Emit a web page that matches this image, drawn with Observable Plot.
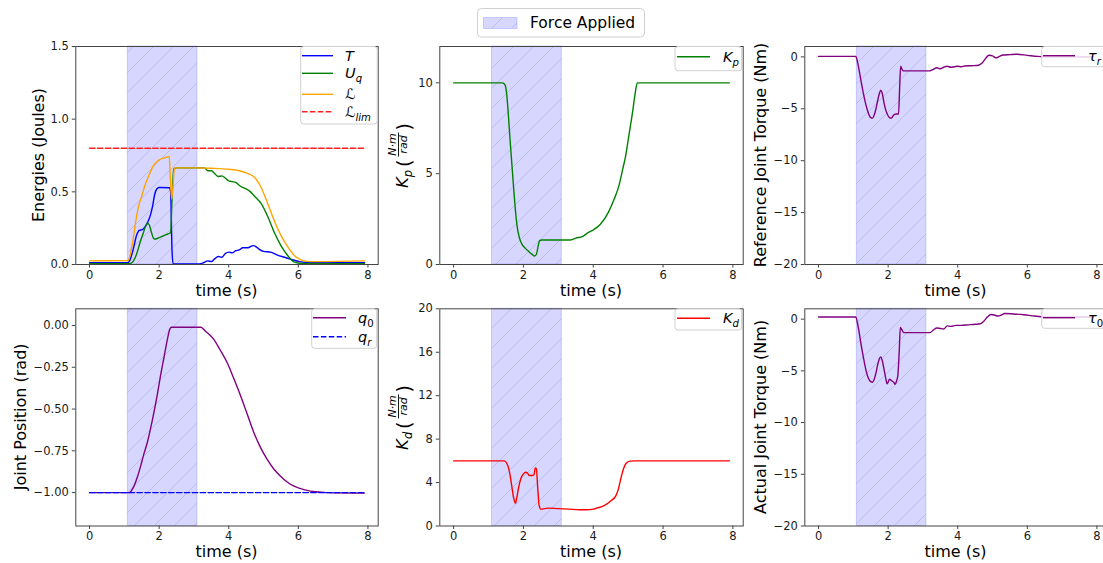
<!DOCTYPE html>
<html><head><meta charset="utf-8">
<script src="https://cdn.jsdelivr.net/npm/d3@7"></script>
<script src="https://cdn.jsdelivr.net/npm/@observablehq/plot@0.6"></script>
<style>
html,body{margin:0;padding:0;background:#fff;overflow:hidden;}
#fig{position:relative;width:1103px;height:563px;overflow:hidden;background:#fff;font-family:"DejaVu Sans",sans-serif;}
#fig > svg{position:absolute;left:0;top:0;}
</style></head><body>
<div id="fig">
<svg width="0" height="0" style="position:absolute;left:0;top:0"><defs>
<pattern id="hatch" patternUnits="userSpaceOnUse" width="20" height="20">
<rect width="20" height="20" fill="#d6d6ff"></rect>
<path d="M-2,2 L2,-2 M0,20 L20,0 M18,22 L22,18" stroke="#bcbcf3" stroke-width="1"></path>
</pattern>
</defs></svg>
</div>
<script>
// ---------------- data ----------------
const forceStart = 1.1, forceEnd = 3.1;
const xTicks = [0, 2, 4, 6, 8];

// Energies
const tT = [0,1.1,1.16,1.25,1.35,1.43,1.52,1.6,1.67,1.75,1.81,1.87,1.93,2.0,2.3,2.33,2.37,2.4,3.1,3.25,3.4,3.5,3.6,3.7,3.8,3.9,4.0,4.1,4.2,4.3,4.4,4.55,4.7,4.8,4.9,5.0,5.2,5.4,5.6,5.8,6.0,6.2,7.9];
const vT = [0.012,0.012,0.03,0.1,0.2,0.235,0.24,0.26,0.29,0.34,0.40,0.48,0.52,0.53,0.528,0.5,0.1,0.005,0.003,0.01,0.025,0.02,0.04,0.055,0.05,0.075,0.085,0.08,0.095,0.10,0.115,0.115,0.13,0.12,0.10,0.09,0.085,0.065,0.05,0.035,0.022,0.015,0.012];
const tU = [0,1.15,1.25,1.35,1.45,1.55,1.62,1.67,1.72,1.78,1.84,1.9,2.0,2.1,2.2,2.3,2.33,2.37,2.42,2.5,3.3,3.4,3.5,3.6,3.7,3.8,3.9,4.0,4.1,4.2,4.3,4.4,4.5,4.6,4.74,4.93,5.12,5.31,5.5,5.7,5.89,6.1,6.3,7.9];
const vU = [0.005,0.006,0.02,0.07,0.15,0.22,0.27,0.285,0.27,0.22,0.18,0.175,0.185,0.195,0.205,0.215,0.22,0.45,0.66,0.665,0.665,0.645,0.645,0.625,0.605,0.61,0.595,0.575,0.57,0.565,0.545,0.53,0.52,0.505,0.47,0.42,0.33,0.22,0.13,0.06,0.016,0.007,0.006,0.006];
const tL = [0,1.1,1.16,1.25,1.33,1.42,1.5,1.6,1.7,1.8,1.9,2.0,2.1,2.2,2.29,2.32,2.36,2.4,2.44,3.0,3.5,4.0,4.3,4.5,4.74,4.93,5.12,5.31,5.5,5.7,5.89,6.08,6.3,6.6,7.9];
const vL = [0.025,0.027,0.06,0.17,0.30,0.41,0.47,0.55,0.61,0.665,0.70,0.72,0.73,0.737,0.743,0.6,0.45,0.55,0.665,0.665,0.662,0.655,0.645,0.63,0.60,0.53,0.42,0.30,0.2,0.12,0.06,0.032,0.02,0.02,0.025];
const tLim = [0, 7.9];
const vLim = [0.8, 0.8];
const energyTicks = [0, 0.5, 1.0, 1.5];

// Kp
const tKp = [0,1.4,1.47,1.52,1.57,1.62,1.67,1.72,1.77,1.82,1.88,1.95,2.05,2.15,2.25,2.32,2.37,2.42,2.46,2.52,3.35,3.5,3.7,3.85,4.0,4.2,4.44,4.6,4.73,4.85,4.92,5.02,5.12,5.2,5.26,7.9];
const vKp = [10,10,9.9,9.4,8.2,6.8,5.5,4.2,3.0,2.1,1.5,1.15,0.9,0.72,0.56,0.47,0.55,1.0,1.3,1.35,1.35,1.45,1.55,1.75,1.9,2.2,2.9,3.6,4.3,5.3,5.9,7.1,8.3,9.4,10,10];
const kpTicks = [0, 5, 10];

// Reference torque
const tTr = [0,1.07,1.12,1.22,1.3,1.36,1.43,1.5,1.55,1.6,1.65,1.7,1.75,1.79,1.83,1.88,1.93,1.98,2.04,2.09,2.14,2.18,2.24,2.3,2.33,2.36,2.4,2.45,3.2,3.3,3.4,3.5,3.6,3.7,3.8,3.9,4.0,4.1,4.2,4.4,4.6,4.7,4.8,4.9,5.0,5.1,5.2,5.3,5.5,5.7,6.0,6.3,6.6,7.9];
const vTr = [0.05,0.05,-0.5,-2.3,-3.7,-4.6,-5.4,-5.85,-5.9,-5.6,-5.0,-4.2,-3.5,-3.2,-3.5,-4.4,-5.1,-5.55,-5.85,-5.9,-5.7,-5.55,-5.5,-5.5,-3.0,-0.9,-1.2,-1.35,-1.35,-1.2,-1.05,-1.15,-1.0,-0.9,-1.0,-0.95,-0.9,-0.95,-0.88,-0.85,-0.8,-0.6,-0.15,0.15,0.1,-0.1,0.05,0.18,0.22,0.25,0.15,0.05,0.0,0.0];
const torqueTicks = [0, -5, -10, -15, -20];

// Joint position
const tQ0 = [0,1.15,1.2,1.28,1.37,1.47,1.56,1.66,1.75,1.85,1.95,2.04,2.14,2.24,2.3,2.35,3.2,3.33,3.45,3.57,3.75,3.95,4.15,4.34,4.53,4.72,4.9,5.1,5.3,5.48,5.67,5.86,6.05,6.25,6.5,6.82,7.9];
const vQ0 = [-1.0,-1.0,-0.99,-0.96,-0.91,-0.84,-0.77,-0.70,-0.62,-0.52,-0.41,-0.30,-0.19,-0.08,-0.025,-0.01,-0.01,-0.034,-0.055,-0.083,-0.145,-0.22,-0.32,-0.42,-0.53,-0.64,-0.725,-0.80,-0.86,-0.90,-0.935,-0.96,-0.975,-0.987,-0.995,-1.0,-1.003];
const tQr = [0, 7.9];
const vQr = [-1.0, -1.0];
const posTicks = [0, -0.25, -0.5, -0.75, -1.0];

// Kd
const tKd = [0,1.45,1.52,1.6,1.66,1.72,1.77,1.81,1.86,1.93,2.0,2.07,2.12,2.17,2.25,2.3,2.34,2.37,2.41,2.45,2.5,2.7,3.0,3.3,3.6,3.8,4.0,4.1,4.3,4.5,4.65,4.72,4.8,4.87,4.95,5.05,5.2,7.9];
const vKd = [6,6,5.8,5.0,3.8,2.6,2.1,2.6,3.5,4.4,4.8,4.95,4.85,4.65,4.65,4.7,5.35,5.3,3.5,1.9,1.55,1.65,1.6,1.55,1.5,1.5,1.55,1.65,1.85,2.3,2.8,3.4,4.5,5.3,5.8,5.97,6,6];
const kdTicks = [0, 4, 8, 12, 16, 20];

// Actual torque
const tT0 = [0,1.07,1.12,1.22,1.3,1.36,1.43,1.5,1.55,1.6,1.65,1.7,1.75,1.79,1.83,1.88,1.93,1.97,2.0,2.04,2.08,2.12,2.16,2.2,2.24,2.28,2.32,2.35,2.39,2.45,3.2,3.3,3.4,3.5,3.6,3.7,3.8,3.95,4.1,4.3,4.5,4.65,4.75,4.85,4.95,5.05,5.15,5.25,5.35,5.6,5.9,6.2,6.5,7.9];
const vT0 = [0.2,0.2,-0.4,-2.4,-3.9,-4.9,-5.7,-6.05,-6.1,-5.8,-5.2,-4.4,-3.8,-3.65,-4.0,-4.8,-5.7,-6.25,-6.1,-5.8,-5.9,-6.0,-6.1,-6.3,-6.0,-5.4,-3.0,-0.8,-1.0,-1.3,-1.3,-1.05,-0.85,-0.9,-0.95,-0.65,-0.7,-0.6,-0.6,-0.55,-0.5,-0.45,-0.2,0.2,0.45,0.4,0.3,0.4,0.55,0.5,0.42,0.3,0.22,0.2];

// ---------------- drawing ----------------
const fig = document.getElementById("fig");
const W = 1120, H = 563;
const xDomain = [-0.395, 8.295];
const series = (t, v) => t.map((x, i) => ({t: x, v: v[i]}));

function panel(frame, yDomain, yTicks, yFormat, lines) {
  const svg = Plot.plot({
    width: W, height: H,
    marginLeft: frame.left, marginRight: W - frame.right,
    marginTop: frame.top, marginBottom: H - frame.bottom,
    style: {background: "transparent", fontFamily: "DejaVu Sans", fontSize: "11.5px", color: "#1a1a1a", overflow: "visible", maxWidth: "none"},
    x: {domain: xDomain},
    y: {domain: yDomain},
    marks: [
      Plot.rect([{x1: forceStart, x2: forceEnd}], {x1: "x1", x2: "x2", fill: "url(#hatch)", stroke: "rgba(90,90,255,0.25)", strokeWidth: 1}),
      ...lines.map(l => Plot.line(series(l.t, l.v), {x: "t", y: "v", stroke: l.color, strokeWidth: 1.4, strokeDasharray: l.dash, curve: "monotone-x"})),
      Plot.frame({stroke: "#444"}),
      Plot.axisX({ticks: xTicks, tickSize: 3.5, tickPadding: 2.5, label: null, tickFormat: d3.format("d"), stroke: "#444"}),
      Plot.axisY({ticks: yTicks, tickSize: 3.5, tickPadding: 3.5, label: null, tickFormat: yFormat, stroke: "#444"})
    ]
  });
  fig.appendChild(svg);
}

const F = {
  p1: {left: 75.3, right: 377.7, top: 46, bottom: 264},
  p2: {left: 439.3, right: 742.7, top: 46, bottom: 264},
  p3: {left: 804.3, right: 1106.7, top: 46, bottom: 264},
  p4: {left: 75.3, right: 377.7, top: 308.3, bottom: 525.5},
  p5: {left: 439.3, right: 742.7, top: 308.3, bottom: 525.5},
  p6: {left: 804.3, right: 1106.7, top: 308.3, bottom: 525.5}
};

panel(F.p1, [0, 1.5], energyTicks, d3.format(".1f"), [
  {t: tT, v: vT, color: "#0000ff"},
  {t: tU, v: vU, color: "#008000"},
  {t: tL, v: vL, color: "#ffa500"},
  {t: tLim, v: vLim, color: "#ff2020", dash: "5.5,2.4"}
]);
panel(F.p2, [0, 12], kpTicks, d3.format("d"), [{t: tKp, v: vKp, color: "#008000"}]);
panel(F.p3, [-20, 1], torqueTicks, d3.format("d"), [{t: tTr, v: vTr, color: "#800080"}]);
panel(F.p4, [-1.2, 0.1], posTicks, d3.format(".2f"), [
  {t: tQ0, v: vQ0, color: "#800080"},
  {t: tQr, v: vQr, color: "#0000ff", dash: "5.5,2.4"}
]);
panel(F.p5, [0, 20], kdTicks, d3.format("d"), [{t: tKd, v: vKd, color: "#ff0000"}]);
panel(F.p6, [-20, 1], torqueTicks, d3.format("d"), [{t: tT0, v: vT0, color: "#800080"}]);

// ---------------- overlay: labels and legends ----------------
const ov = d3.select(fig).append("svg").attr("width", W).attr("height", H)
  .style("font-family", "DejaVu Sans").style("pointer-events", "none");

const LBL = 16;
function xLabel(cx, f) {
  ov.append("text").attr("x", cx).attr("y", f.bottom + 26).attr("dy", "0.35em")
    .attr("text-anchor", "middle").attr("font-size", LBL).attr("fill", "#000").text("time (s)");
}
xLabel(226.5, F.p1); xLabel(591, F.p2); xLabel(955.5, F.p3);
xLabel(226.5, F.p4); xLabel(591, F.p5); xLabel(955.5, F.p6);

function yLabel(cx, cy, text) {
  ov.append("text").attr("transform", `translate(${cx},${cy}) rotate(-90)`).attr("dy", "0.35em")
    .attr("text-anchor", "middle").attr("font-size", LBL).attr("fill", "#000").text(text);
}
yLabel(38.3, 155, "Energies (Joules)");
yLabel(760.5, 155, "Reference Joint Torque (Nm)");
yLabel(20.7, 416.9, "Joint Position (rad)");
yLabel(760.7, 416.9, "Actual Joint Torque (Nm)");

function gainLabel(bx, cy, sub) {
  const g = ov.append("g").attr("transform", `translate(${bx},${cy}) rotate(-90)`).attr("fill", "#000");
  const t = g.append("text").attr("x", -33).attr("y", 0).attr("font-size", 16.5);
  t.append("tspan").attr("font-style", "italic").text("K");
  t.append("tspan").attr("font-style", "italic").attr("font-size", 11.5).attr("dy", 3.5).text(sub);
  g.append("text").attr("x", -12).attr("y", 2.5).attr("font-size", 19).text("(");
  g.append("text").attr("x", 10.5).attr("y", -12.5).attr("font-size", 11).attr("font-style", "italic").attr("text-anchor", "middle").text("N·m");
  g.append("line").attr("x1", -1.5).attr("x2", 22.5).attr("y1", -9.5).attr("y2", -9.5).attr("stroke", "#000").attr("stroke-width", 0.9);
  g.append("text").attr("x", 10.5).attr("y", -1).attr("font-size", 11).attr("font-style", "italic").attr("text-anchor", "middle").text("rad");
  g.append("text").attr("x", 24.5).attr("y", 2.5).attr("font-size", 19).text(")");
}
gainLabel(408, 155, "p");
gainLabel(408, 416.9, "d");

const LEG = 14.5;
function mathText(x, y, parts) {
  const t = ov.append("text").attr("x", x).attr("y", y).attr("font-size", LEG).attr("fill", "#000");
  let inSub = false;
  parts.forEach(p => {
    const ts = t.append("tspan").text(p.t).attr("font-style", p.it ? "italic" : "normal");
    if (p.sub) { ts.attr("font-size", LEG * 0.7); if (!inSub) { ts.attr("dy", 4); inSub = true; } }
    else if (inSub) { ts.attr("dy", -4); inSub = false; }
  });
}
function legend(box, x1, x2, tx, entries) {
  ov.append("rect").attr("x", box[0]).attr("y", box[1]).attr("width", box[2]).attr("height", box[3])
    .attr("rx", 3).attr("fill", "#fff").attr("fill-opacity", 0.8).attr("stroke", "#d0d0d0");
  entries.forEach(e => {
    ov.append("line").attr("x1", x1).attr("x2", x2).attr("y1", e.y).attr("y2", e.y)
      .attr("stroke", e.color).attr("stroke-width", 1.4).attr("stroke-dasharray", e.dash || null);
    mathText(tx, e.y + 5, e.parts);
  });
}
legend([300.7, 46.5, 76.5, 77.5], 302, 333, 345, [
  {y: 55.7, color: "#0000ff", parts: [{t: "T", it: true}]},
  {y: 73.3, color: "#008000", parts: [{t: "U", it: true}, {t: "q", it: true, sub: true}]},
  {y: 94.3, color: "#ffa500", parts: [{t: "ℒ", it: false}]},
  {y: 111.7, color: "#ff2020", dash: "5.5,2.4", parts: [{t: "ℒ", it: false}, {t: "lim", it: true, sub: true}]}
]);
legend([675, 46.5, 66.7, 24.2], 677, 710, 723, [
  {y: 56.7, color: "#008000", parts: [{t: "K", it: true}, {t: "p", it: true, sub: true}]}
]);
legend([1041.7, 46.5, 80, 20.2], 1043, 1075, 1088, [
  {y: 55.7, color: "#800080", parts: [{t: "τ", it: true}, {t: "r", it: true, sub: true}]}
]);
legend([311.7, 308.8, 65, 39.5], 313, 346, 358, [
  {y: 317.7, color: "#800080", parts: [{t: "q", it: true}, {t: "0", it: false, sub: true}]},
  {y: 336.7, color: "#0000ff", dash: "5.5,2.4", parts: [{t: "q", it: true}, {t: "r", it: true, sub: true}]}
]);
legend([675, 308.8, 66.7, 21.2], 677, 710, 723, [
  {y: 318.3, color: "#ff0000", parts: [{t: "K", it: true}, {t: "d", it: true, sub: true}]}
]);
legend([1041.7, 308.8, 80, 19.5], 1043, 1075, 1088, [
  {y: 317.7, color: "#800080", parts: [{t: "τ", it: true}, {t: "0", it: false, sub: true}]}
]);

// top legend
ov.append("rect").attr("x", 477.5).attr("y", 8.5).attr("width", 167).attr("height", 28.5)
  .attr("rx", 4).attr("fill", "#fff").attr("stroke", "#d0d0d0");
ov.append("rect").attr("x", 483.5).attr("y", 17.5).attr("width", 33.5).attr("height", 11)
  .attr("fill", "url(#hatch)").attr("stroke", "rgba(90,90,255,0.25)");
ov.append("text").attr("x", 530).attr("y", 28).attr("font-size", 15.5).attr("fill", "#000").text("Force Applied");
</script>
</body></html>
